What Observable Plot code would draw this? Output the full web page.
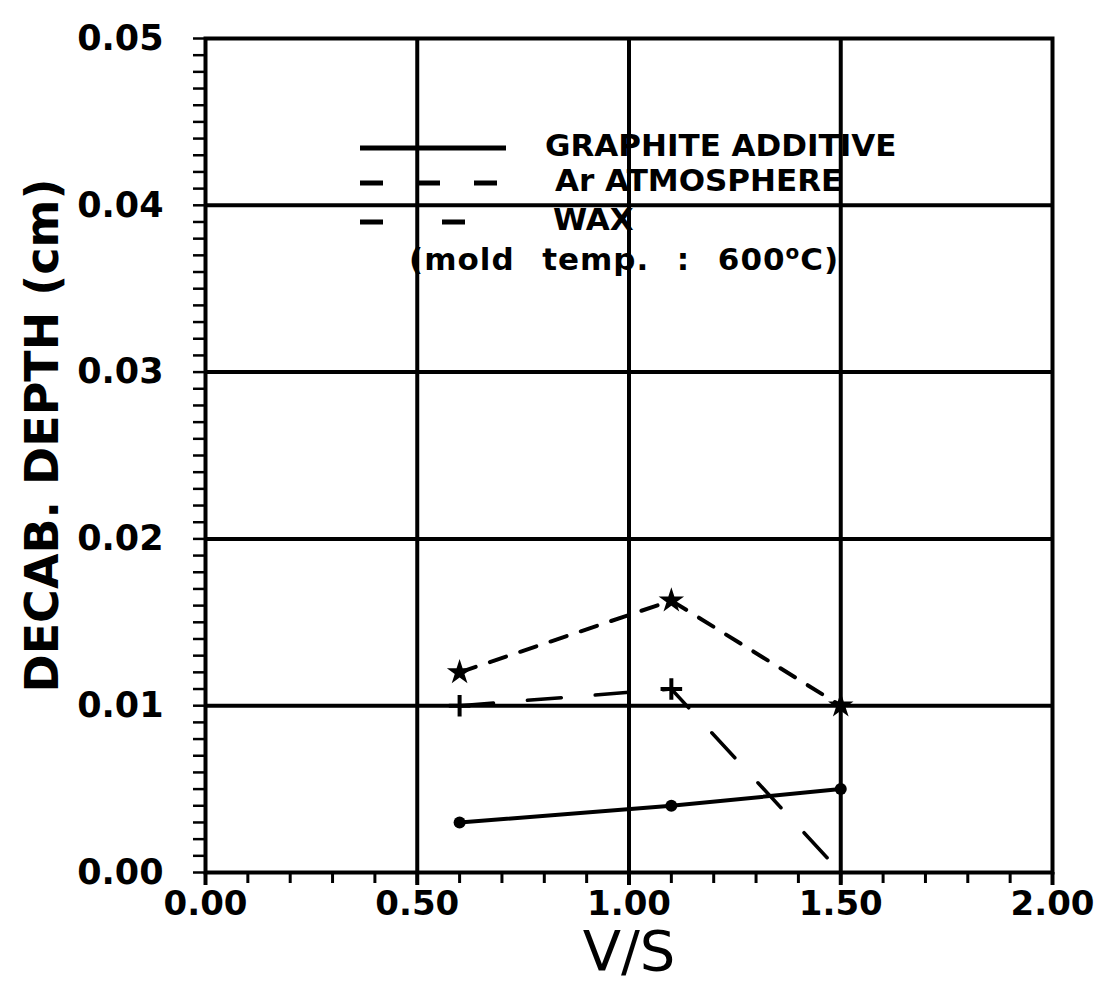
<!DOCTYPE html>
<html>
<head>
<meta charset="utf-8">
<script src="https://cdn.jsdelivr.net/npm/d3@7"></script>
<script src="https://cdn.jsdelivr.net/npm/@observablehq/plot@0.6"></script>
<style>
  html, body { margin: 0; padding: 0; background: #fff; }
  #wrap { position: relative; width: 1108px; height: 984px; }
  #legend { position: absolute; left: 0; top: 0; font-family: "DejaVu Sans", sans-serif; font-weight: bold; color: #000; }
  #legend .row { position: absolute; white-space: nowrap; font-size: 31px; line-height: 1; }
</style>
</head>
<body>
<div id="wrap"></div>
<script>
// ---- data ----
const vs = [0.6, 1.1, 1.5];
const graphiteAdditive = [0.003, 0.004, 0.005];
const arAtmosphere = [0.012, 0.0163, 0.010];
const wax = [0.010, 0.011, 0.000];
const waxMarkerCount = 2; // markers drawn at first two points only

const xMajorTicks = [0, 0.5, 1.0, 1.5, 2.0];
const yMajorTicks = [0, 0.01, 0.02, 0.03, 0.04, 0.05];
const xMinorTicks = d3.range(0, 21).map(i => i / 10);
const yMinorTicks = d3.range(0, 51).map(i => i / 1000);

const legendItems = ["GRAPHITE ADDITIVE", "Ar ATMOSPHERE", "WAX", "(mold temp. : 600\u00B0C)"];

const g = vs.map((x, i) => ({x, y: graphiteAdditive[i]}));
const a = vs.map((x, i) => ({x, y: arAtmosphere[i]}));
const w = vs.map((x, i) => ({x, y: wax[i]}));

const font = "DejaVu Sans, sans-serif";

const chart = Plot.plot({
  width: 1108,
  height: 984,
  marginLeft: 205,
  marginRight: 56,
  marginTop: 38,
  marginBottom: 112,
  style: {fontFamily: font, background: "#fff", color: "#000"},
  x: {domain: [0, 2], label: null},
  y: {domain: [0, 0.05], label: null},
  marks: [
    // grid
    Plot.ruleX(xMajorTicks.slice(1, -1), {stroke: "#000", strokeWidth: 4}),
    Plot.ruleY(yMajorTicks.slice(1, -1), {stroke: "#000", strokeWidth: 4}),
    Plot.frame({stroke: "#000", strokeWidth: 4}),
    // minor ticks
    Plot.axisX({ticks: xMinorTicks, tickSize: 11, tickFormat: () => "", strokeWidth: 3, stroke: "#000"}),
    Plot.axisY({ticks: yMinorTicks, tickSize: 12, tickFormat: () => "", strokeWidth: 2.5, stroke: "#000"}),
    // major labels
    Plot.axisX({ticks: xMajorTicks, tickSize: 13, strokeWidth: 4, tickPadding: 5, tickFormat: d3.format(".2f"),
      fontSize: 34, fontWeight: "bold", fill: "#000", label: null}),
    Plot.axisY({ticks: yMajorTicks, tickSize: 0, tickPadding: 42, tickFormat: d3.format(".2f"),
      fontSize: 35, fontWeight: "bold", fill: "#000", label: null}),
    // axis titles
    Plot.text(["V/S"], {frameAnchor: "bottom", lineAnchor: "middle", dy: 80, fontSize: 56, fontWeight: "normal", fill: "#000", text: d => d}),
    Plot.text(["DECAB. DEPTH (cm)"], {frameAnchor: "left", textAnchor: "middle", lineAnchor: "middle", dx: -162, dy: -20, rotate: -90, fontSize: 46, fontWeight: "bold", fill: "#000", text: d => d}),
    // series
    Plot.line(g, {x: "x", y: "y", stroke: "#000", strokeWidth: 4}),
    Plot.dot(g, {x: "x", y: "y", r: 6, fill: "#000"}),
    Plot.line(a, {x: "x", y: "y", stroke: "#000", strokeWidth: 4, strokeDasharray: "17,15"}),
    Plot.dot(a, {x: "x", y: "y", r: 8, symbol: "star", fill: "#000"}),
    Plot.line(w, {x: "x", y: "y", stroke: "#000", strokeWidth: 3.5, strokeDasharray: "34,34"}),
    Plot.dot(w.slice(0, waxMarkerCount), {x: "x", y: "y", r: 7, symbol: "plus", stroke: "#000", strokeWidth: 4})
  ]
});

const wrap = document.getElementById("wrap");
wrap.appendChild(chart);

// legend overlay
const legend = document.createElement("div");
legend.id = "legend";
const swatches = [
  {y: 148, dash: null},
  {y: 183, dash: "23,34"},
  {y: 222, dash: "23,59"}
];
const ns = "http://www.w3.org/2000/svg";
const svg = document.createElementNS(ns, "svg");
svg.setAttribute("width", 1108);
svg.setAttribute("height", 984);
svg.style.position = "absolute";
svg.style.left = "0"; svg.style.top = "0";
swatches.forEach(s => {
  const l = document.createElementNS(ns, "line");
  l.setAttribute("x1", 360); l.setAttribute("x2", 506);
  l.setAttribute("y1", s.y); l.setAttribute("y2", s.y);
  l.setAttribute("stroke", "#000"); l.setAttribute("stroke-width", 5);
  if (s.dash) l.setAttribute("stroke-dasharray", s.dash);
  svg.appendChild(l);
});
legend.appendChild(svg);
const textPos = [
  {x: 545, y: 145},
  {x: 555, y: 180},
  {x: 553, y: 219},
  {x: 409, y: 257}
];
legendItems.forEach((t, i) => {
  const d = document.createElement("div");
  d.className = "row";
  d.style.left = textPos[i].x + "px";
  d.style.top = (textPos[i].y - 15) + "px";
  if (i === 3) {
    d.style.letterSpacing = "1px";
    d.style.wordSpacing = "2px";
    d.innerHTML = "(mold&nbsp; temp. &nbsp;: &nbsp;600<sup style='font-size:20px'>o</sup>C)";
  } else {
    d.textContent = t;
  }
  legend.appendChild(d);
});
wrap.appendChild(legend);
</script>
</body>
</html>
